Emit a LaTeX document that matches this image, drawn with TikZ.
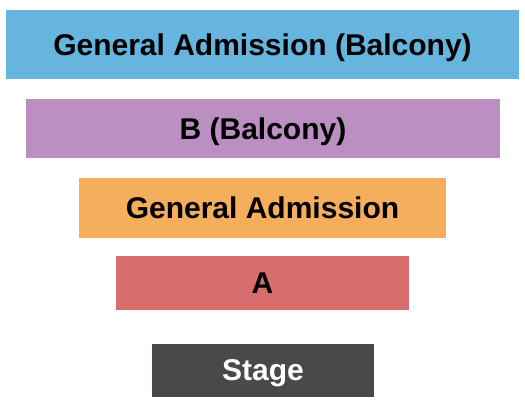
\documentclass[tikz,border=0pt]{standalone}
\usepackage{fontspec}
\setmainfont{Liberation Sans}
\usepackage{tikz}
\definecolor{balconyblue}{HTML}{66B5DF}
\definecolor{balconypurple}{HTML}{BB8FC2}
\definecolor{floororange}{HTML}{F4AE5C}
\definecolor{frontred}{HTML}{D86D6D}
\definecolor{stagegray}{HTML}{4A484B}
\tikzset{x=1pt, y=-1pt,
every section/.style={ % Sets the properties for each seating block
inner sep=0pt,
text depth=0pt, % Centre the capitals in the block
font=\fontsize{30}{31}\selectfont\bfseries,
text=black},
section/.style={every section, fill=#1}}

\begin{document}
\begin{tikzpicture}
\useasboundingbox (0,0) rectangle (525,405);
\node[section=balconyblue, minimum width=513pt, minimum height=69pt] (gab) at (262.5,44.5) {General Admission (Balcony)};
\node[section=balconypurple, minimum width=474pt, minimum height=59pt] (bb) at (263,128.5) {B (Balcony)};
\node[section=floororange, minimum width=367pt, minimum height=60pt] (ga) at (262.5,208) {General Admission};
\node[section=frontred, minimum width=293pt, minimum height=54pt] (a) at (262.5,283) {A};
\node[section=stagegray, minimum width=222pt, minimum height=53pt, text=white] (stage) at (263,370.5) {Stage};
\end{tikzpicture}
\end{document}
